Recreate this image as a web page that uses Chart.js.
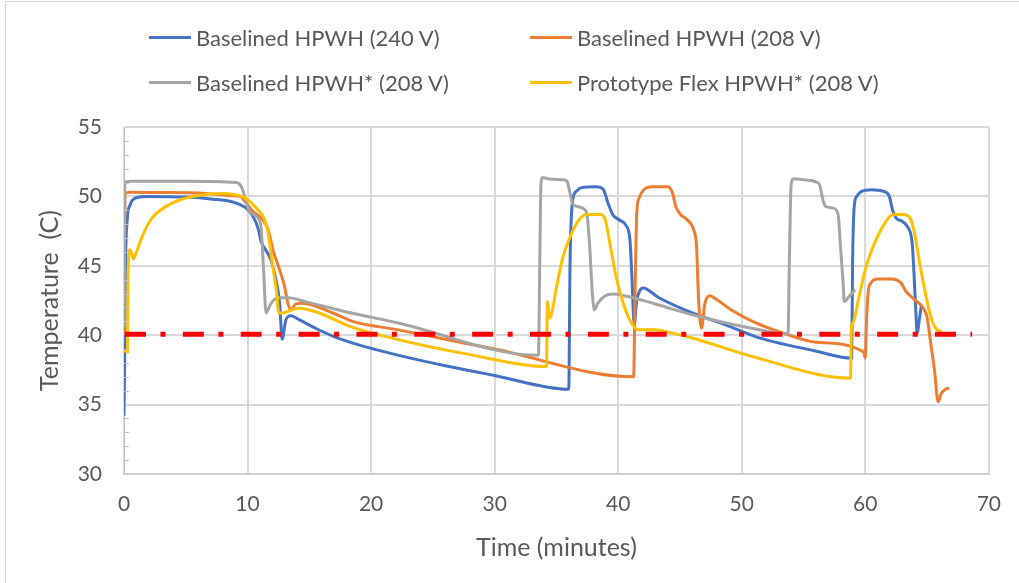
<!DOCTYPE html>
<html>
<head>
<meta charset="utf-8">
<script src="https://cdn.jsdelivr.net/npm/chart.js@4"></script>
<style>
  html, body { margin: 0; padding: 0; background: #fff; overflow: hidden; }
  #wrap { position: relative; width: 1019px; height: 583px; }
  #frame { position: absolute; left: 5px; top: 1px; width: 1100px; height: 700px; border: 1px solid #d9d9d9; box-sizing: border-box; }
  #legend { position: absolute; left: 0; top: 0; width: 1019px; font-family: Lato, sans-serif; font-size: 22px; color: #595959; }
  .item { position: absolute; display: flex; align-items: center; white-space: pre; }
  .item span.swatch { display: inline-block; width: 42px; height: 3px; margin-right: 5px; }
  canvas { position: absolute; left: 0; top: 0; }
</style>
</head>
<body>
<div id="wrap">
  <div id="frame"></div>
  <canvas id="chart" width="1019" height="583"></canvas>
  <div id="legend"></div>
</div>
<script>
// Baselined HPWH (240 V)
const blueTime = [0, 0.05, 0.12, 0.25, 0.5, 1.0, 2.0, 5.0, 7.2, 8.8, 9.4, 9.9, 10.45, 10.85, 11.1, 11.5, 11.9, 12.3, 12.6, 12.8, 13.1, 13.5, 14.2, 15.5, 17.0, 19.0, 22.0, 26.0, 30.0, 36.0, 36.1, 36.3, 36.6, 37.1, 38.2, 38.8, 39.15, 39.55, 40.1, 40.6, 40.95, 41.1, 41.3, 41.5, 41.75, 42.0, 43.3, 46.0, 48.7, 51.1, 52.7, 55.8, 58.9, 58.97, 59.1, 59.3, 59.7, 60.5, 61.5, 61.95, 62.2, 62.5, 63.0, 63.4, 63.8, 64.05, 64.2, 64.4, 64.55];
const blueTemp = [34.2, 38.0, 45.0, 48.2, 49.4, 49.9, 50.0, 49.95, 49.8, 49.6, 49.4, 49.15, 48.55, 47.7, 46.75, 46.1, 45.4, 44.0, 42.3, 39.7, 41.1, 41.4, 41.1, 40.5, 39.9, 39.3, 38.6, 37.8, 37.1, 36.1, 45.0, 49.6, 50.36, 50.65, 50.7, 50.5, 49.6, 48.7, 48.3, 47.95, 46.9, 44.4, 40.75, 42.5, 43.2, 43.4, 42.7, 41.6, 40.75, 39.9, 39.5, 38.9, 38.35, 45.0, 49.2, 50.0, 50.36, 50.48, 50.36, 50.0, 49.04, 48.44, 48.2, 47.83, 46.6, 42.5, 40.15, 41.3, 42.2];

// Baselined HPWH (208 V)
const orangeTime = [0, 0.08, 0.5, 3.0, 6.0, 8.85, 9.4, 9.9, 10.46, 11.26, 11.67, 12.07, 12.6, 13.0, 13.27, 13.5, 13.9, 14.4, 16.9, 18.5, 22.1, 30.0, 41.25, 41.35, 41.5, 41.7, 42.1, 42.8, 44.0, 44.4, 44.65, 45.05, 45.6, 46.1, 46.35, 46.5, 46.75, 47.0, 47.4, 48.0, 49.2, 51.1, 53.0, 56.0, 59.85, 60.0, 60.1, 60.25, 60.45, 61.0, 62.1, 62.9, 63.3, 63.7, 64.2, 64.6, 65.0, 65.3, 65.6, 65.9, 66.15, 66.5, 66.8];
const orangeTemp = [40.0, 50.2, 50.3, 50.28, 50.25, 50.05, 50.0, 49.5, 48.9, 48.3, 47.6, 46.1, 44.7, 43.5, 42.3, 41.8, 42.26, 42.3, 41.6, 41.0, 40.4, 39.0, 37.0, 42.0, 48.7, 49.9, 50.5, 50.7, 50.7, 50.24, 49.3, 48.7, 48.3, 47.6, 46.3, 42.7, 40.5, 42.2, 42.85, 42.55, 41.8, 40.9, 40.26, 39.5, 38.8, 38.35, 41.0, 43.2, 43.75, 44.04, 44.04, 43.75, 43.15, 42.8, 42.4, 42.07, 41.3, 39.4, 37.5, 35.2, 35.8, 36.1, 36.2];

// Baselined HPWH* (208 V)
const grayTime = [0, 0.06, 0.2, 0.5, 5.0, 9.1, 9.5, 9.8, 10.06, 10.46, 10.86, 11.1, 11.3, 11.5, 11.9, 12.5, 13.3, 14.75, 18.4, 22.1, 33.55, 33.65, 33.75, 33.9, 34.3, 35.5, 35.85, 36.07, 36.3, 36.7, 37.3, 37.5, 37.7, 37.9, 38.07, 38.35, 38.9, 39.55, 40.4, 43.0, 46.3, 51.1, 53.75, 53.85, 54.0, 54.2, 55.0, 56.05, 56.3, 56.6, 56.8, 57.4, 57.8, 58.0, 58.2, 58.3, 58.7, 59.1, 59.2];
const grayTemp = [40.5, 50.8, 51.05, 51.1, 51.1, 51.0, 50.7, 49.9, 49.1, 48.7, 48.44, 47.7, 44.7, 41.6, 42.3, 42.7, 42.7, 42.4, 41.6, 40.9, 38.55, 45.0, 50.9, 51.37, 51.27, 51.2, 51.1, 50.36, 49.5, 49.27, 49.04, 48.55, 46.3, 43.15, 41.83, 42.3, 42.8, 42.96, 42.86, 42.25, 41.4, 40.45, 40.1, 45.0, 50.9, 51.27, 51.2, 51.03, 50.84, 49.64, 49.27, 49.16, 48.7, 46.3, 43.87, 42.43, 42.8, 43.2, 43.25];

// Prototype Flex HPWH* (208 V)
const yellowTime = [0, 0.28, 0.33, 0.4, 0.5, 0.75, 1.07, 1.47, 2.15, 3.2, 4.56, 5.9, 7.8, 9.1, 9.8, 10.46, 10.7, 11.4, 11.67, 12.0, 12.33, 12.55, 12.9, 13.5, 14.2, 15.8, 18.4, 22.1, 28.0, 34.2, 34.27, 34.46, 34.65, 35.0, 35.5, 36.07, 36.74, 37.4, 38.6, 38.96, 39.3, 39.8, 40.36, 41.0, 41.57, 43.0, 44.4, 46.0, 51.1, 58.8, 58.88, 59.0, 59.5, 60.07, 60.74, 61.5, 62.2, 63.0, 63.55, 63.96, 64.5, 65.3, 65.8, 66.2];
const yellowTemp = [38.9, 38.8, 44.0, 46.0, 46.15, 45.5, 46.15, 47.1, 48.3, 49.16, 49.76, 50.05, 50.2, 50.1, 49.9, 49.4, 49.16, 48.3, 47.36, 45.2, 43.27, 41.6, 41.6, 41.8, 41.95, 41.6, 40.6, 39.7, 38.6, 37.74, 42.43, 41.23, 41.7, 43.4, 45.55, 47.0, 48.2, 48.7, 48.7, 48.3, 46.75, 44.35, 42.43, 41.0, 40.4, 40.4, 40.15, 39.8, 38.4, 36.9, 40.6, 40.9, 42.8, 44.95, 46.6, 47.95, 48.67, 48.7, 48.55, 47.47, 44.7, 41.35, 40.4, 40.3];

// 40 C reference line
const refTime = [0.08, 68.65];
const refTemp = [40.07, 40.07];

const seriesNames = ['Baselined HPWH (240 V)', 'Baselined HPWH (208 V)', 'Baselined HPWH* (208 V)', 'Prototype Flex HPWH* (208 V)'];
const seriesColors = ['#4472C4', '#ED7D31', '#A5A5A5', '#FFC000'];

const xTicks = [0, 10, 20, 30, 40, 50, 60, 70];
const yTicks = [30, 35, 40, 45, 50, 55];

const pts = (xs, ys) => xs.map((x, i) => ({ x: x, y: ys[i] }));

const textColor = '#595959';
const fontFamily = 'Lato, sans-serif';

const makeLine = (i, xs, ys, order) => ({
    label: seriesNames[i],
    data: pts(xs, ys),
    borderColor: seriesColors[i],
    backgroundColor: seriesColors[i],
    borderWidth: 3,
    pointRadius: 0,
    cubicInterpolationMode: 'monotone',
    fill: false,
    order: order,
});

// small inside tick marks on the y axis, like the original
const minorTicks = {
    id: 'minorTicks',
    afterDatasetsDraw(chart) {
        const { ctx, scales: { y } } = chart;
        ctx.save();
        ctx.strokeStyle = '#bfbfbf';
        ctx.lineWidth = 1;
        for (let v = y.min + 1; v < y.max; v++) {
            if (v % 5 === 0) continue;
            const py = Math.round(y.getPixelForValue(v)) + 0.5;
            ctx.beginPath();
            ctx.moveTo(y.right, py);
            ctx.lineTo(y.right + 5, py);
            ctx.stroke();
        }
        ctx.restore();
    }
};

const ctx = document.getElementById('chart').getContext('2d');
new Chart(ctx, {
    type: 'line',
    data: {
        datasets: [
            makeLine(0, blueTime, blueTemp, 4),
            makeLine(1, orangeTime, orangeTemp, 3),
            makeLine(2, grayTime, grayTemp, 2),
            makeLine(3, yellowTime, yellowTemp, 1),
            {
                label: 'ref',
                data: pts(refTime, refTemp),
                borderColor: '#FF0000',
                borderWidth: 5,
                borderDash: [21, 14.5, 5, 17.36],
                borderCapStyle: 'butt',
                pointRadius: 0,
                fill: false,
                order: 0,
            },
        ],
    },
    options: {
        responsive: false,
        animation: false,
        layout: { padding: { top: 127, right: 24, left: 0, bottom: 0 } },
        plugins: { legend: { display: false }, tooltip: { enabled: false } },
        scales: {
            x: {
                type: 'linear',
                min: 0,
                max: 70,
                afterBuildTicks: (s) => { s.ticks = xTicks.map(v => ({ value: v })); },
                afterFit: (s) => { s.height = 109; },
                ticks: { color: textColor, font: { family: fontFamily, size: 21 }, padding: 18 },
                grid: { color: '#d9d9d9', lineWidth: 2, drawTicks: false },
                border: { color: '#d0d0d0', width: 2 },
                title: { display: true, text: 'Time (minutes)', color: textColor, font: { family: fontFamily, size: 25 }, padding: { top: 0, bottom: 20 } },
            },
            y: {
                min: 30,
                max: 55,
                afterBuildTicks: (s) => { s.ticks = yTicks.map(v => ({ value: v })); },
                afterFit: (s) => { s.width = 124; },
                ticks: { color: textColor, font: { family: fontFamily, size: 21 }, padding: 22 },
                grid: { color: '#d9d9d9', lineWidth: 2, drawTicks: false },
                border: { color: '#bfbfbf', width: 1 },
                title: { display: true, text: 'Temperature  (C)', color: textColor, font: { family: fontFamily, size: 25 }, padding: { top: 35, bottom: 0 } },
            },
        },
    },
    plugins: [minorTicks],
});

// legend laid out in two columns like the original
const legendPos = [[149, 37], [530, 37], [149, 82], [530, 82]];
const legend = document.getElementById('legend');
seriesNames.forEach((name, i) => {
    const el = document.createElement('div');
    el.className = 'item';
    el.style.left = legendPos[i][0] + 'px';
    el.style.top = (legendPos[i][1] - 13) + 'px';
    el.style.height = '26px';
    el.innerHTML = '<span class="swatch" style="background:' + seriesColors[i] + '"></span>';
    el.appendChild(document.createTextNode(name));
    legend.appendChild(el);
});
</script>
</body>
</html>
